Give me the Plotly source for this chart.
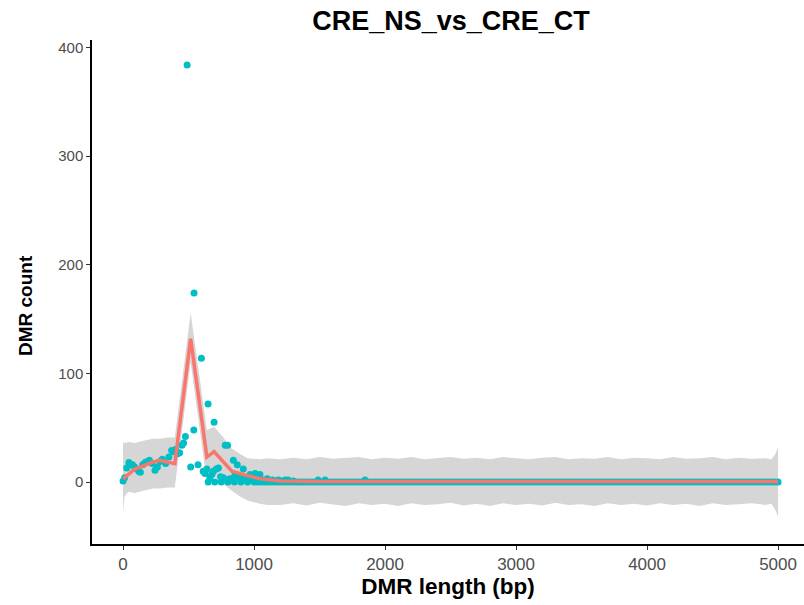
import plotly.graph_objects as go

# ---- data ----
# scattered DMR counts (cyan points)
pts_x = [0, 12, 28, 45, 58, 72, 88, 105, 120, 132, 150, 168, 185, 201, 222, 244, 262, 282, 300, 325,
         350, 371, 386, 400, 415, 432, 450, 462, 476, 489, 516, 540, 542, 572, 598, 612, 626, 640, 649,
         663, 678, 690, 695, 712, 728, 745, 766, 780, 798, 815, 842, 852, 872, 885, 900, 918, 935, 955,
         970, 988, 1008, 1025, 1045, 1062, 1080, 1100, 1120, 1140, 1165, 1185, 1210, 1237, 1260, 1300,
         1489, 1542, 1847]
pts_y = [1, 4, 13, 18, 16, 16, 14, 12, 10, 9, 16, 18, 19, 20, 17, 11, 14, 19, 21, 17,
         23, 29, 28, 30, 26, 27, 34, 36, 42, 384, 14, 48, 174, 16, 114, 10, 8, 12, 72,
         4, 7, 10, 55, 12, 13, 5, 4, 34, 34, 3, 20, 6, 16, 5, 3, 12, 4, 3,
         7, 2, 8, 3, 7, 2, 1, 3, 1, 2, 1, 2, 1, 2, 2, 1,
         2, 2, 2]

# long tail of lengths with zero counts
zero_x = [650, 700, 750, 800, 850, 900, 950, 1000, 1025, 1050, 1075, 1100, 1125, 1150, 1175, 1200,
          1225, 1250, 1275, 1300, 1325, 1350, 1375, 1400, 1425, 1450, 1475, 1500, 1525, 1550, 1575,
          1600, 1625, 1650, 1675, 1700, 1725, 1750, 1775, 1800, 1825, 1850, 1875, 1900, 1925, 1950,
          1975, 2000, 2025, 2050, 2075, 2100, 2125, 2150, 2175, 2200, 2225, 2250, 2275, 2300, 2325,
          2350, 2375, 2400, 2425, 2450, 2475, 2500, 2525, 2550, 2575, 2600, 2625, 2650, 2675, 2700,
          2725, 2750, 2775, 2800, 2825, 2850, 2875, 2900, 2925, 2950, 2975, 3000, 3025, 3050, 3075,
          3100, 3125, 3150, 3175, 3200, 3225, 3250, 3275, 3300, 3325, 3350, 3375, 3400, 3425, 3450,
          3475, 3500, 3525, 3550, 3575, 3600, 3625, 3650, 3675, 3700, 3725, 3750, 3775, 3800, 3825,
          3850, 3875, 3900, 3925, 3950, 3975, 4000, 4025, 4050, 4075, 4100, 4125, 4150, 4175, 4200,
          4225, 4250, 4275, 4300, 4325, 4350, 4375, 4400, 4425, 4450, 4475, 4500, 4525, 4550, 4575,
          4600, 4625, 4650, 4675, 4700, 4725, 4750, 4775, 4800, 4825, 4850, 4875, 4900, 4925, 4950,
          4975, 5000]
zero_y = [0, 0, 0, 0, 0, 0, 0, 0, 0, 0, 0, 0, 0, 0, 0, 0,
          0, 0, 0, 0, 0, 0, 0, 0, 0, 0, 0, 0, 0, 0, 0,
          0, 0, 0, 0, 0, 0, 0, 0, 0, 0, 0, 0, 0, 0, 0,
          0, 0, 0, 0, 0, 0, 0, 0, 0, 0, 0, 0, 0, 0, 0,
          0, 0, 0, 0, 0, 0, 0, 0, 0, 0, 0, 0, 0, 0, 0,
          0, 0, 0, 0, 0, 0, 0, 0, 0, 0, 0, 0, 0, 0, 0,
          0, 0, 0, 0, 0, 0, 0, 0, 0, 0, 0, 0, 0, 0, 0,
          0, 0, 0, 0, 0, 0, 0, 0, 0, 0, 0, 0, 0, 0, 0,
          0, 0, 0, 0, 0, 0, 0, 0, 0, 0, 0, 0, 0, 0, 0,
          0, 0, 0, 0, 0, 0, 0, 0, 0, 0, 0, 0, 0, 0, 0,
          0, 0, 0, 0, 0, 0, 0, 0, 0, 0, 0, 0, 0, 0, 0,
          0, 0]

# fitted line (salmon)
fit_x = [0, 90, 155, 230, 282, 340, 395, 516, 640, 695, 830, 950, 1046, 1200, 1500, 2000, 2500,
         3000, 3500, 4000, 4500, 5000]
fit_y = [3, 12, 15, 18.5, 20, 18.5, 17, 132, 23, 28, 10, 6, 3, 1, 0.5, 0.5, 0.5,
         0.5, 0.5, 0.5, 0.5, 0.5]

# confidence band (grey)
band_x = [0, 12, 40, 90, 155, 230, 282, 340, 395, 516, 640, 695, 760, 830, 890, 950, 1046, 1100,
          1200, 1300, 1400, 1500, 1600, 1700, 1800, 1900, 2000, 2100, 2200, 2300, 2400, 2500, 2600,
          2700, 2800, 2900, 3000, 3100, 3200, 3300, 3400, 3500, 3600, 3700, 3800, 3900, 4000, 4100,
          4200, 4300, 4400, 4500, 4600, 4700, 4800, 4900, 4950, 4980, 5000]
band_hi = [37, 36, 37, 36, 38, 40, 40, 41, 41, 156, 48, 51, 42, 31, 26, 22, 21, 22,
           21, 22.5, 21, 23, 21.5, 22, 23, 21, 22.5, 21.5, 23, 21, 22, 23, 21.5,
           22.5, 21, 23, 22, 21, 22.5, 23, 21, 22, 21.5, 23, 21, 22.5, 22, 21,
           23, 21.5, 22, 23, 21, 22.5, 21.5, 22, 21, 26, 32.5]
band_lo = [-28, -13, -9, -10, -8, -6, -6, -5, -5, 110, 0, 5, -1, -8, -13, -17, -20, -21,
           -21, -19.5, -21.5, -19, -20.5, -22, -19.5, -21, -20, -22, -19.5, -21, -20.5, -19, -21.5,
           -20, -22, -19.5, -21, -20, -21.5, -19, -21, -20.5, -22, -19.5, -21, -20, -21.5, -19.5,
           -21, -20, -22, -19.5, -21, -20.5, -19.5, -21, -20, -26, -32]

x_ticks = [0, 1000, 2000, 3000, 4000, 5000]
y_ticks = [0, 100, 200, 300, 400]

title_text = "CRE_NS_vs_CRE_CT"
x_title = "DMR length (bp)"
y_title = "DMR count"

# ---- figure ----
FONT = "Liberation Sans, Arial, Helvetica, sans-serif"
W, H = 804, 605
L, R, T, B = 92, 0, 40, 61
fig = go.Figure()

fig.add_trace(go.Scatter(
    x=band_x + band_x[::-1], y=band_hi + band_lo[::-1],
    fill="toself", fillcolor="rgb(214,214,214)", line=dict(width=0),
    mode="lines", hoverinfo="skip", showlegend=False))

fig.add_trace(go.Scatter(
    x=zero_x + pts_x, y=zero_y + pts_y, mode="markers",
    marker=dict(color="#00BFC4", size=7, line=dict(width=0)),
    showlegend=False))

fig.add_trace(go.Scatter(
    x=fit_x, y=fit_y, mode="lines",
    line=dict(color="#F8766D", width=3.5),
    showlegend=False))

pw = W - L - R
ph = H - T - B
fig.update_layout(
    width=W, height=H,
    margin=dict(l=L, r=R, t=T, b=B),
    paper_bgcolor="white", plot_bgcolor="white",
    font=dict(family=FONT, color="black"),
    title=dict(text=title_text, x=(451 - L) / pw, xref="paper", xanchor="center",
               y=1 - 21 / H, yref="container", yanchor="middle",
               font=dict(size=27, weight="bold", color="black", family=FONT)),
    annotations=[dict(text=y_title, textangle=-90, showarrow=False,
                      xref="paper", yref="paper",
                      x=(25 - L) / pw, y=(H - B - 306) / ph,
                      xanchor="center", yanchor="middle",
                      font=dict(size=19, weight="bold", color="black", family=FONT))],
)
fig.update_xaxes(
    range=[-237, 5198], tickvals=x_ticks, ticktext=[str(v) for v in x_ticks],
    showgrid=False, zeroline=False, showline=True, linecolor="black", linewidth=1.5,
    ticks="outside", ticklen=4, tickwidth=1.2, tickcolor="#333333",
    tickfont=dict(size=17, color="#4D4D4D", family=FONT),
    title=dict(text=x_title, standoff=5, font=dict(size=22.5, weight="bold", color="black", family=FONT)))
fig.update_yaxes(
    range=[-57, 407], tickvals=y_ticks, ticktext=[str(v) for v in y_ticks],
    showgrid=False, zeroline=False, showline=True, linecolor="black", linewidth=1.5,
    ticks="outside", ticklen=4, tickwidth=1.2, tickcolor="#333333",
    tickfont=dict(size=15, color="#4D4D4D", family=FONT))

fig.write_html("out.html")
